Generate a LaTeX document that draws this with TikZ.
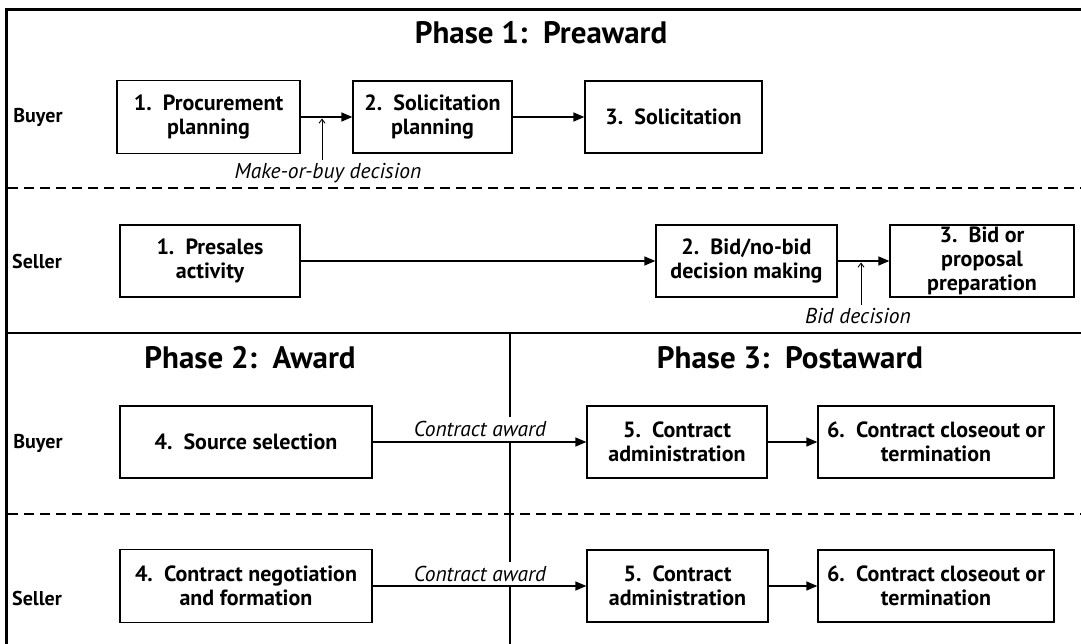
\documentclass[tikz,border=0pt]{standalone}
\usepackage{fontspec}
\setmainfont{PT Sans}
\usetikzlibrary{arrows.meta}
\newcommand\bxfont{\bfseries\fontsize{22}{24}\selectfont}
\newcommand\lnfont{\bfseries\fontsize{20}{24}\selectfont}
\newcommand\ttlfont{\bfseries\fontsize{31}{36}\selectfont}
\newcommand\dcfont{\itshape\fontsize{21.5}{24}\selectfont}
\begin{document}
\begin{tikzpicture}[x=1pt,y=-1pt,
  box/.style={draw, line width=1.3pt, align=center, inner sep=0pt, font=\bxfont},
  lane/.style={font=\lnfont, inner sep=0pt},
  phasetitle/.style={font=\ttlfont, inner sep=0pt},
  dec/.style={font=\dcfont, inner sep=0pt},
  award/.style={dec, fill=white, inner xsep=0pt, inner ysep=4pt},
  flow/.style={line width=1.3pt, -{Triangle[length=11pt,width=9pt]}},
  tick/.style={line width=0.9pt, -{Straight Barb[length=4pt,width=6pt]}, shorten >=1.5pt},
  divider/.style={line width=1.3pt},
  lanedash/.style={line width=1.3pt, dash pattern=on 10pt off 6pt}]
\useasboundingbox (0,0) rectangle (1081,644);
\fill[white] (0,0) rectangle (1081,644);
% frame and dividers
\draw[line width=3pt] (6.5,644) -- (6.5,10) -- (1081,10);
\draw[lanedash] (8,188) -- (1081,188);
\draw[divider] (8,333) -- (1081,333);
\draw[divider] (510,333) -- (510,644);
\draw[lanedash] (8,514) -- (1081,514);
% titles
\node[phasetitle] (t1) at (541,33) {Phase 1:\ \ Preaward};
\node[phasetitle] (t2) at (250,358) {Phase 2:\ \ Award};
\node[phasetitle] (t3) at (790,358) {Phase 3:\ \ Postaward};
% lane labels
\node[lane] (l1) at (38,117) {Buyer};
\node[lane] (l2) at (37,262) {Seller};
\node[lane] (l3) at (38,443) {Buyer};
\node[lane] (l4) at (37,598) {Seller};
% phase 1 buyer
\node[box, minimum width=183pt, minimum height=73pt] (b1) at (208.5,117) {1.\ \ Procurement\\planning};
\node[box, minimum width=159pt, minimum height=72pt] (b2) at (432.5,117) {2.\ \ Solicitation\\planning};
\node[box, minimum width=177pt, minimum height=72pt] (b3) at (673.5,117) {3.\ \ Solicitation};
% phase 1 seller
\node[box, minimum width=180pt, minimum height=72pt] (s1) at (210,261) {1.\ \ Presales\\activity};
\node[box, minimum width=181pt, minimum height=72pt] (s2) at (746.5,261) {2.\ \ Bid/no-bid\\decision making};
\node[box, minimum width=184pt, minimum height=72pt] (s3) at (982,261) {3.\ \ Bid or\\proposal\\preparation};
% phase 2/3 buyer
\node[box, minimum width=252pt, minimum height=72pt] (b4) at (246,442) {4.\ \ Source selection};
\node[box, minimum width=180pt, minimum height=72pt] (b5) at (677,442) {5.\ \ Contract\\administration};
\node[box, minimum width=236pt, minimum height=72pt] (b6) at (936,442) {6.\ \ Contract closeout or\\termination};
% phase 2/3 seller
\node[box, minimum width=252pt, minimum height=73pt] (s4) at (246,586) {4.\ \ Contract negotiation\\and formation};
\node[box, minimum width=181pt, minimum height=72pt] (s5) at (677.5,586) {5.\ \ Contract\\administration};
\node[box, minimum width=236pt, minimum height=72pt] (s6) at (936,586) {6.\ \ Contract closeout or\\termination};
% decision labels
\node[dec] (mob) at (328,173) {Make-or-buy decision};
\node[dec] (bid) at (858,316) {Bid decision};
\node[award] (ca1) at (480,429) {Contract award};
\node[award] (ca2) at (480,574) {Contract award};
\coordinate (m1) at (322,160);
\coordinate (m2) at (861,305);
% flows
\draw[flow] (b1) -- (b2);
\draw[flow] (b2) -- (b3);
\draw[flow] (s1) -- (s2);
\draw[flow] (s2) -- (s3);
\draw[flow] (b4) -- (b5);
\draw[flow] (b5) -- (b6);
\draw[flow] (s4) -- (s5);
\draw[flow] (s5) -- (s6);
% decision ticks
\draw[tick] (m1) -- (m1 |- b1.east);
\draw[tick] (m2) -- (m2 |- s2.east);
\end{tikzpicture}
\end{document}
